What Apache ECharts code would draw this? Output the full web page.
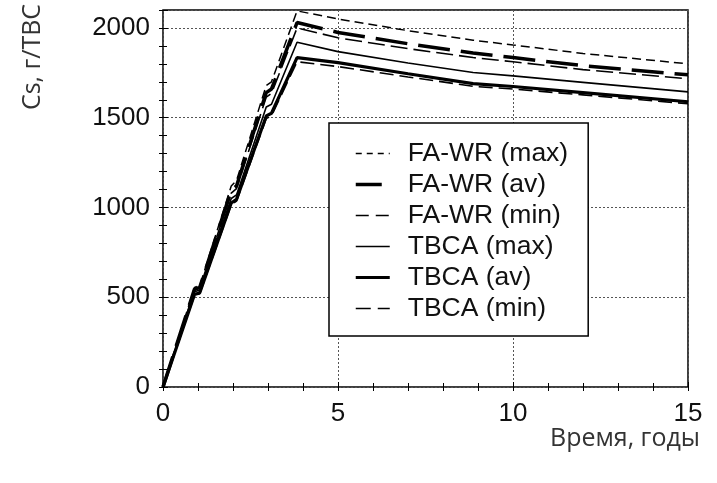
<!DOCTYPE html>
<html>
<head>
<meta charset="utf-8">
<script src="https://cdn.jsdelivr.net/npm/echarts@6/dist/echarts.min.js"></script>
<style>
html,body{margin:0;padding:0;background:#fff;}
#c{width:717px;height:483px;}
</style>
</head>
<body>
<div id="c"></div>
<script>
// Time (years)
const years = [0, 0.9, 1.05, 1.95, 2.1, 2.95, 3.1, 3.83, 5, 7, 8.86, 10, 12, 15];
// Cs, g per fuel assembly
const faWrMax = [0, 555, 565, 1120, 1150, 1680, 1700, 2095, 2050, 1985, 1932, 1905, 1858, 1800];
const faWrAv  = [0, 545, 555, 1095, 1120, 1640, 1660, 2030, 1975, 1912, 1860, 1835, 1790, 1739];
const faWrMin = [0, 540, 550, 1080, 1105, 1615, 1635, 2000, 1945, 1885, 1835, 1812, 1768, 1717];
const tbcaMax = [0, 530, 540, 1050, 1070, 1560, 1575, 1920, 1868, 1805, 1752, 1733, 1697, 1644];
const tbcaAv  = [0, 515, 525, 1025, 1045, 1510, 1525, 1835, 1807, 1745, 1690, 1674, 1640, 1589];
const tbcaMin = [0, 510, 520, 1015, 1035, 1495, 1510, 1812, 1785, 1727, 1675, 1660, 1627, 1578];
const seriesNames = ['FA-WR (max)', 'FA-WR (av)', 'FA-WR (min)', 'TBCA (max)', 'TBCA (av)', 'TBCA (min)'];
const xTicks = [0, 5, 10, 15];
const yTicks = [0, 500, 1000, 1500, 2000];

const allValues = [faWrMax, faWrAv, faWrMin, tbcaMax, tbcaAv, tbcaMin];
const styles = [
  {width: 1.5, type: [9, 5], legendType: [6, 5]},
  {width: 3.5, type: [32, 11], legendType: [26, 20]},
  {width: 1.6, type: [17, 6], legendType: [13, 7]},
  {width: 1.6, type: 'solid', legendType: 'solid'},
  {width: 3.2, type: 'solid', legendType: 'solid'},
  {width: 1.6, type: [14, 6], legendType: [15, 7]}
];

const series = allValues.map((vals, i) => ({
  name: seriesNames[i],
  type: 'line',
  xAxisIndex: 0,
  yAxisIndex: 0,
  symbol: 'none',
  animation: false,
  color: '#000',
  itemStyle: {color: '#000'},
  data: years.map((t, k) => [t, vals[k]]),
  lineStyle: {color: '#000', width: styles[i].width, type: styles[i].type}
}));

const chart = echarts.init(document.getElementById('c'), null, {renderer: 'canvas'});
const labelFont = {fontFamily: 'Liberation Sans', fontSize: 26, color: '#111'};
const gridLine = {show: true, lineStyle: {color: '#555', type: [2, 2], width: 1}};

chart.setOption({
  backgroundColor: '#fff',
  animation: false,
  color: ['#000'],
  grid: {left: 163, right: 29, top: 10, bottom: 96, show: true, borderColor: '#000', borderWidth: 1.5, backgroundColor: 'transparent'},
  xAxis: [
    {type: 'value', min: 0, max: 15, interval: 5, position: 'bottom',
     axisLine: {show: false}, axisTick: {show: true, inside: true, length: 5, lineStyle: {color: '#000'}},
     splitLine: gridLine,
     axisLabel: Object.assign({margin: 14, formatter: v => xTicks.includes(v) ? String(v) : ''}, labelFont)},
    {type: 'value', min: 0, max: 15, interval: 1, position: 'bottom',
     axisLine: {show: false}, axisTick: {show: true, inside: true, length: 4, lineStyle: {color: '#000'}},
     splitLine: {show: false}, axisLabel: {show: false}},
    {type: 'value', min: 0, max: 15, interval: 1, position: 'top',
     axisLine: {show: false}, axisTick: {show: true, inside: true, length: 4, lineStyle: {color: '#000'}},
     splitLine: {show: false}, axisLabel: {show: false}}
  ],
  yAxis: [
    {type: 'value', min: 0, max: 2100, interval: 500, position: 'left',
     axisLine: {show: false}, axisTick: {show: true, inside: true, length: 5, lineStyle: {color: '#000'}},
     splitLine: gridLine,
     axisLabel: Object.assign({margin: 13, formatter: v => yTicks.includes(v) ? String(v) : ''}, labelFont)},
    {type: 'value', min: 0, max: 2100, interval: 100, position: 'left',
     axisLine: {show: false}, axisTick: {show: true, inside: true, length: 4, lineStyle: {color: '#000'}},
     splitLine: {show: false}, axisLabel: {show: false}},
    {type: 'value', min: 0, max: 2100, interval: 100, position: 'right',
     axisLine: {show: false}, axisTick: {show: true, inside: true, length: 4, lineStyle: {color: '#000'}},
     splitLine: {show: false}, axisLabel: {show: false}}
  ],
  legend: {
    show: true,
    orient: 'vertical',
    left: 329,
    top: 123,
    backgroundColor: '#fff',
    borderColor: '#000',
    borderWidth: 1.5,
    padding: [17, 20, 14, 25],
    itemWidth: 34,
    itemHeight: 14,
    itemGap: 4,
    itemStyle: {opacity: 0, borderWidth: 0},
    data: seriesNames.map((n, i) => ({
      name: n,
      lineStyle: {width: styles[i].width, type: styles[i].legendType, color: '#000'}
    })),
    textStyle: {fontFamily: 'Liberation Sans', fontSize: 26.5, color: '#111', padding: [0, 0, 0, 13], lineHeight: 26}
  },
  graphic: [
    {type: 'text', x: 33, y: 57, rotation: Math.PI / 2,
     style: {text: 'Cs, г/ТВС', fontFamily: 'Open Sans', fontSize: 25, fill: '#333', align: 'center', verticalAlign: 'middle'}},
    {type: 'text', x: 700, y: 439,
     style: {text: 'Время, годы', fontFamily: 'Open Sans', fontSize: 25, fill: '#333', align: 'right', verticalAlign: 'middle'}}
  ],
  series: series
});
</script>
</body>
</html>
